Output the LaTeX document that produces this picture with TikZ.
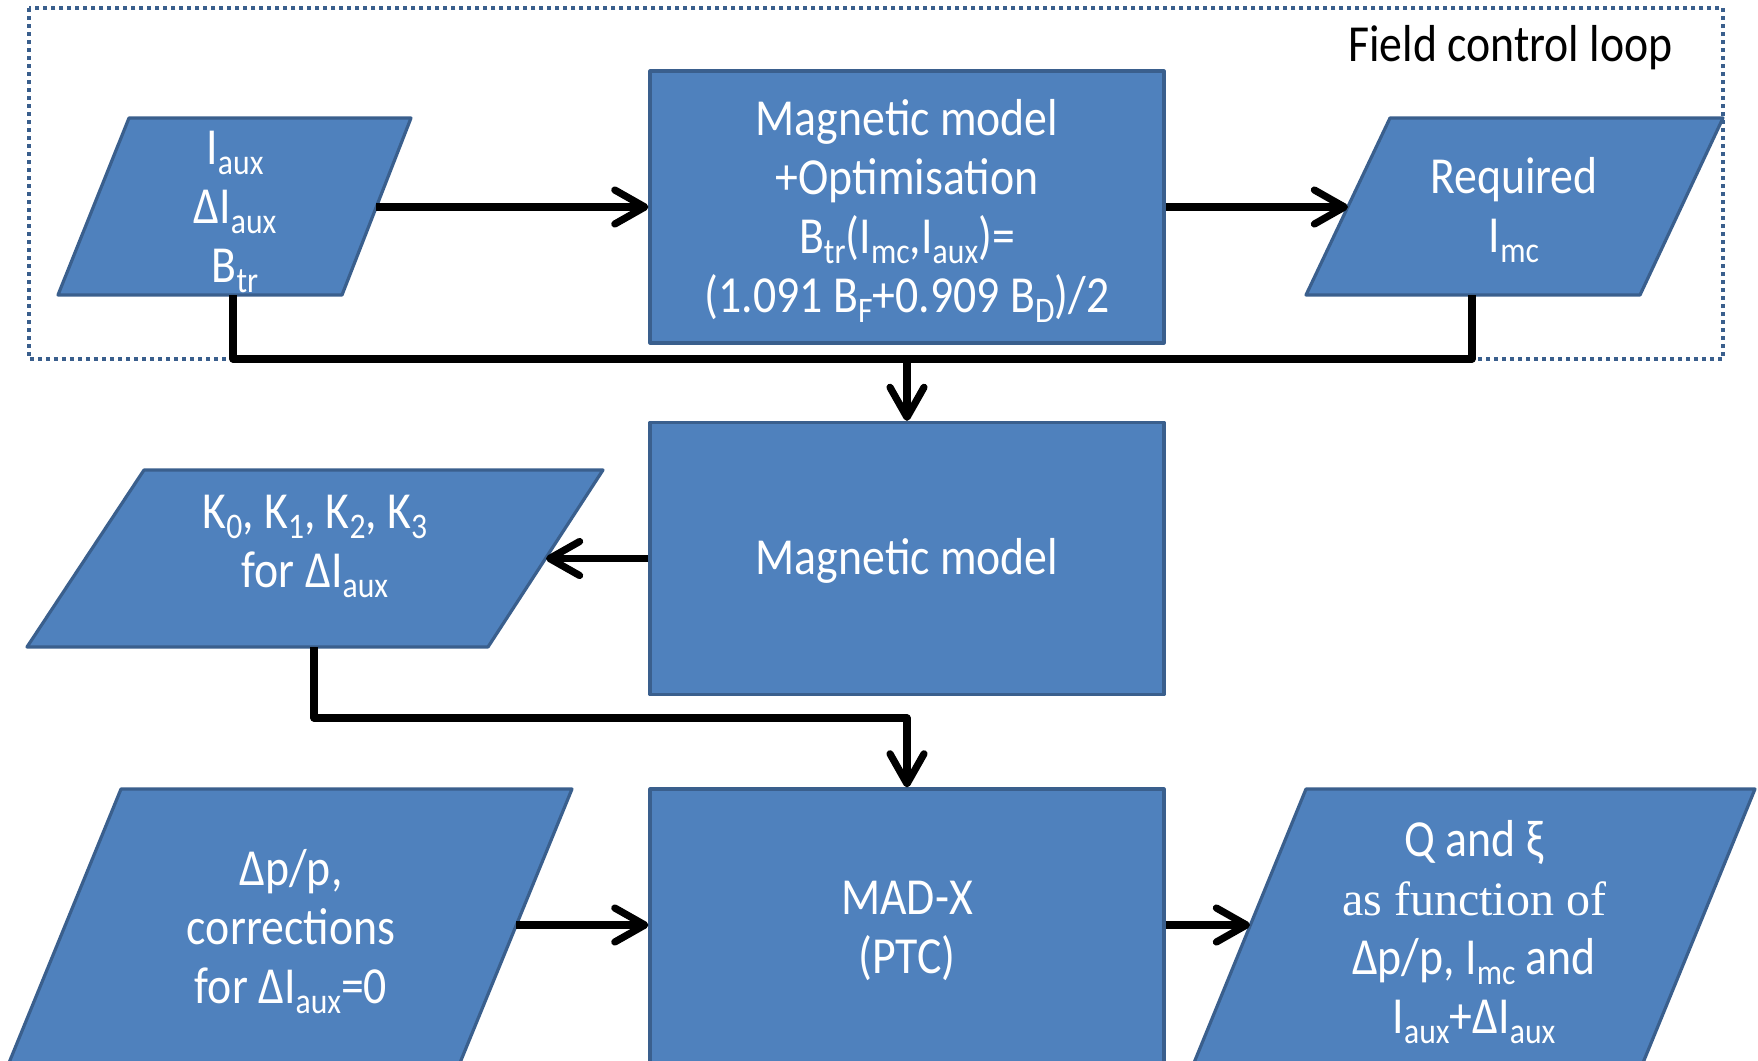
\documentclass[tikz,border=0pt]{standalone}
\usepackage{fontspec}
\setmainfont{Carlito}[FakeStretch=0.88]
\newfontfamily\serifx{Liberation Serif}
\usetikzlibrary{arrows.meta}
\definecolor{boxfill}{HTML}{4F81BD}
\definecolor{boxline}{HTML}{3A5F8D}
\newcommand{\sub}[1]{\raisebox{-5pt}{\fontsize{18}{18}\selectfont #1}}
\begin{document}
\begin{tikzpicture}[x=0.5pt,y=-0.5pt,
  blk/.style={fill=boxfill,draw=boxline,line width=1.6pt,line join=round},
  boxnode/.style={blk,minimum width=257pt,minimum height=136pt,inner sep=0pt},
  txt/.style={text=white,align=center,font=\fontsize{26}{29.5}\selectfont,inner sep=0pt},
  conn/.style={line width=3.6pt,line join=round},
  arr/.style={conn,-{Straight Barb[length=15pt,width=17pt,round]}},
  frame/.style={draw=boxline,line width=2pt,dash pattern=on 2pt off 2pt}
]
\useasboundingbox (0,0) rectangle (1758,1061);
\clip (0,0) rectangle (1758,1061);

% field control loop frame
\draw[frame] (29,8) rectangle (1723,359);
\node[anchor=east,font=\fontsize{26}{29}\selectfont,inner sep=0pt] (fcl) at (1673,48) {Field control loop};

% rectangles
\node[boxnode] (b1) at (907,207) {};
\node[txt] (b1t) at (907,211) {Magnetic model\\+Optimisation\\B\sub{tr}(I\sub{mc},I\sub{aux})=\\(1.091 B\sub{F}+0.909 B\sub{D})/2};
\node[boxnode] (b2) at (907,558.5) {};
\node[txt] (b2t) at (907,561) {Magnetic model};
\node[boxnode,minimum height=150pt] (b3) at (907,939) {};
\node[txt] (b3t) at (907,931) {MAD-X\\(PTC)};

% parallelograms
\path[blk] (129,118) -- (411,118) -- (342,295) -- (58,295) -- cycle;
\node[txt] (p1) at (235,212) {I\sub{aux}\\ΔI\sub{aux}\\B\sub{tr}};
\path[blk] (1390,118) -- (1723,118) -- (1640,295) -- (1306,295) -- cycle;
\node[txt] (req) at (1514,210) {Required\\I\sub{mc}};
\path[blk] (144,470) -- (603,470) -- (488,647) -- (27,647) -- cycle;
\node[txt] (kk) at (315,546) {K\sub{0}, K\sub{1}, K\sub{2}, K\sub{3}\\for ΔI\sub{aux}};
\path[blk] (121,789) -- (572,789) -- (455,1075) -- (4,1075) -- cycle;
\node[txt] (dp) at (291,932) {Δp/p,\\corrections\\for ΔI\sub{aux}=0};
\path[blk] (1306,789) -- (1755,789) -- (1638,1075) -- (1189,1075) -- cycle;
\node[txt] (out) at (1474,932) {Q and ξ\\{\serifx\fontsize{24}{29.5}\selectfont as function of}\\Δp/p, I\sub{mc} and\\I\sub{aux}+ΔI\sub{aux}};

% connector end points on slanted edges
\coordinate (p1r) at (376,207);
\coordinate (reql) at (1348,207);
\coordinate (p1b) at (233,295);
\coordinate (reqb) at (1472,295);
\coordinate (bus) at (907,359);
\coordinate (kr) at (546,558.5);
\coordinate (kb) at (314,647);
\coordinate (kbus) at (907,718);
\coordinate (dpr) at (516,925);
\coordinate (outl) at (1250,925);

% connectors
\draw[arr] (p1r) -- (b1.west |- p1r);
\draw[arr] (b1.east |- reql) -- (reql);
\draw[conn] (p1b) -- (p1b |- bus) -- (bus) -| (reqb);
\draw[arr] (bus) -- (b2.north);
\draw[arr] (b2.west |- kr) -- (kr);
\draw[arr] (kb) |- (kbus) -- (b3.north);
\draw[arr] (dpr) -- (b3.west |- dpr);
\draw[arr] (b3.east |- outl) -- (outl);
\end{tikzpicture}
\end{document}
